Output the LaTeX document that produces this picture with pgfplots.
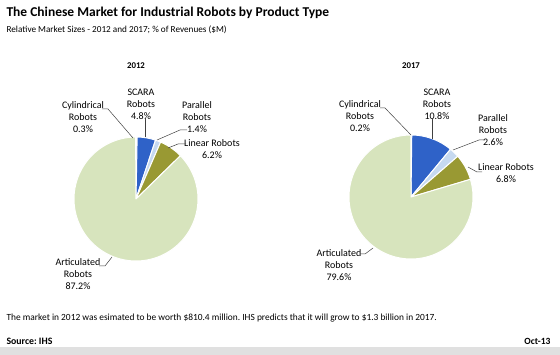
\documentclass[border=0pt]{standalone}
\usepackage{pgfplots}
\pgfplotsset{compat=1.18}
\usepackage{fontspec}
\setmainfont{Carlito}
\frenchspacing
\definecolor{cylc}{HTML}{1F4E9A}
\definecolor{scarac}{HTML}{2F62C8}
\definecolor{parc}{HTML}{C6D9F0}
\definecolor{linc}{HTML}{999933}
\definecolor{artc}{HTML}{D7E4BD}
\definecolor{txt}{HTML}{262626}
\newcommand{\drawpie}[4]{%
  \xdef\cum{0}%
  \foreach \val/\col in {#4} {%
    \pgfmathsetmacro\sa{\cum*3.6}%
    \pgfmathsetmacro\sb{(\cum+\val)*3.6}%
    \edef\tmp{\noexpand\addplot[fill=\col, draw=white, line width=1pt, line join=round, domain=\sa:\sb, samples=100, variable=\noexpand\t] ({#1+#3*sin(\noexpand\t)},{#2-#3*cos(\noexpand\t)}) -- (axis cs:#1,#2) -- cycle;}%
    \tmp
    \pgfmathsetmacro\nn{\cum+\val}\xdef\cum{\nn}%
  }%
}
\begin{document}
\begin{tikzpicture}
\begin{axis}[
  scale only axis, width=560pt, height=355pt,
  xmin=0, xmax=560, ymin=0, ymax=355, y dir=reverse,
  axis lines=none, clip=false,
  every node/.style={font=\fontsize{7.3}{10.5}\selectfont, text=txt, inner sep=0pt},
]
% 2012 pie: Cylindrical, SCARA, Parallel, Linear, Articulated
\drawpie{136}{199}{62}{0.3/cylc, 4.8/scarac, 1.4/parc, 6.2/linc, 87.2/artc}
% 2017 pie
\drawpie{411}{197}{62}{0.2/cylc, 10.8/scarac, 2.6/parc, 6.8/linc, 79.6/artc}

% bottom band
\fill[black!12] (axis cs:0,347) rectangle (axis cs:560,355);

% titles
\node[anchor=west, font=\fontsize{13.5}{15}\selectfont\bfseries, text=black] at (axis cs:3,13) {The Chinese Market for Industrial Robots by Product Type};
\node[anchor=west, font=\fontsize{9.2}{10}\selectfont] at (axis cs:3,30) {Relative Market Sizes - 2012 and 2017; \% of Revenues (\$M)};
\node[font=\fontsize{8.8}{10}\selectfont\bfseries, text=black] at (axis cs:136,66) {2012};
\node[font=\fontsize{8.8}{10}\selectfont\bfseries, text=black] at (axis cs:411,66) {2017};

% 2012 labels
\node[align=center] at (axis cs:83,117) {Cylindrical\\Robots\\0.3\%};
\node[align=center] at (axis cs:141,104) {SCARA\\Robots\\4.8\%};
\node[align=center] at (axis cs:197,117) {Parallel\\Robots\\1.4\%};
\node[align=center] at (axis cs:212,149) {Linear Robots\\6.2\%};
\node[align=center] at (axis cs:78,274) {Articulated\\Robots\\87.2\%};
% 2012 leader lines
\begin{scope}[line width=0.5pt, draw=black!75]
\draw (axis cs:102,109) -- (axis cs:108,109) -- (axis cs:133,138);
\draw (axis cs:145,118) -- (axis cs:145,137);
\draw (axis cs:187,130) -- (axis cs:180,130) -- (axis cs:157,140);
\draw (axis cs:186,144) -- (axis cs:178,144) -- (axis cs:168,148);
\draw (axis cs:99,266) -- (axis cs:105,266) -- (axis cs:112,257);
\end{scope}

% 2017 labels
\node[align=center] at (axis cs:360,116) {Cylindrical\\Robots\\0.2\%};
\node[align=center] at (axis cs:437,104) {SCARA\\Robots\\10.8\%};
\node[align=center] at (axis cs:493,130) {Parallel\\Robots\\2.6\%};
\node[align=center] at (axis cs:506,173) {Linear Robots\\6.8\%};
\node[align=center] at (axis cs:339,265) {Articulated\\Robots\\79.6\%};
\begin{scope}[line width=0.5pt, draw=black!75]
\draw (axis cs:380,108) -- (axis cs:385,108) -- (axis cs:411,135);
\draw (axis cs:432,118) -- (axis cs:432,139);
\draw (axis cs:485,140) -- (axis cs:479,140) -- (axis cs:453,150);
\draw (axis cs:482,172) -- (axis cs:477,172) -- (axis cs:468,167);
\draw (axis cs:360,254) -- (axis cs:365,254) -- (axis cs:373,248);
\end{scope}

% footnotes
\node[anchor=west, font=\fontsize{9.4}{10}\selectfont] at (axis cs:3,318) {The market in 2012 was esimated to be worth \$810.4 million. IHS predicts that it will grow to \$1.3 billion in 2017.};
\node[anchor=west, font=\fontsize{9.8}{11}\selectfont\bfseries, text=black] at (axis cs:3,341) {Source: IHS};
\node[anchor=east, font=\fontsize{9.5}{11}\selectfont\bfseries, text=black] at (axis cs:554,341) {Oct-13};
\end{axis}
\path[use as bounding box] (current axis.south west) rectangle (current axis.north east);
\end{tikzpicture}
\end{document}
